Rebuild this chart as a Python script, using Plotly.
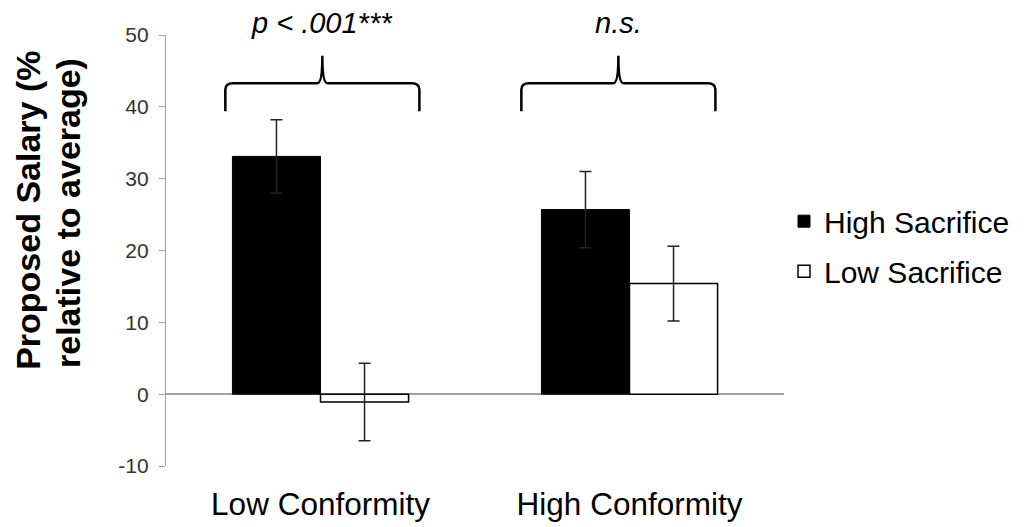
import plotly.graph_objects as go

categories = ["Low Conformity", "High Conformity"]
high_sacrifice = [33.1, 25.7]
high_sacrifice_err = [5.1, 5.3]
low_sacrifice = [-1.1, 15.4]
low_sacrifice_err = [5.4, 5.2]
significance = ["p < .001***", "n.s."]
y_ticks = [-10, 0, 10, 20, 30, 40, 50]

FONT = "Arial, Liberation Sans, sans-serif"
xpos = list(range(len(categories)))

fig = go.Figure()
fig.add_trace(go.Bar(
    x=xpos, y=high_sacrifice, name="High Sacrifice",
    marker=dict(color="black", line=dict(color="black", width=1)),
    error_y=dict(type="data", array=high_sacrifice_err, color="#222222", thickness=1.5, width=6),
    legendgroup="hs",
))
fig.add_trace(go.Bar(
    x=xpos, y=low_sacrifice, name="Low Sacrifice",
    marker=dict(color="white", line=dict(color="black", width=1.5)),
    error_y=dict(type="data", array=low_sacrifice_err, color="#222222", thickness=1.5, width=6),
    legendgroup="ls",
))

# curly braces above each group
brace_shift = [0.006, -0.036]
half_w = 0.314
yb, ym, yt = 39.4, 43.3, 47.1
rx, ry = 0.025, 0.9
shapes = []
annotations = []
for i, txt in enumerate(significance):
    c = xpos[i] + brace_shift[i]
    l, r = c - half_w, c + half_w
    path = (f"M {l},{yb} L {l},{ym-ry} Q {l},{ym} {l+rx},{ym} "
            f"L {c-rx/1.6},{ym} Q {c},{ym} {c},{yt} "
            f"Q {c},{ym} {c+rx/1.6},{ym} L {r-rx},{ym} "
            f"Q {r},{ym} {r},{ym-ry} L {r},{yb}")
    shapes.append(dict(type="path", path=path, xref="x", yref="y",
                       line=dict(color="black", width=2.5)))
    annotations.append(dict(text=f"<i>{txt}</i>", x=c, xref="x", y=1, yref="paper",
                            yanchor="middle", yshift=12, showarrow=False,
                            font=dict(family=FONT, size=29, color="black")))

# y-axis title as two lines
annotations.append(dict(text="<b>Proposed Salary (%</b>", x=0, xref="paper", xshift=-138,
                        y=0.592, yref="paper", textangle=-90, showarrow=False,
                        xanchor="center", yanchor="middle",
                        font=dict(family=FONT, size=34, color="black")))
annotations.append(dict(text="<b>relative to average)</b>", x=0, xref="paper", xshift=-98,
                        y=0.587, yref="paper", textangle=-90, showarrow=False,
                        xanchor="center", yanchor="middle",
                        font=dict(family=FONT, size=34, color="black")))

fig.update_layout(
    width=1022, height=519,
    margin=dict(l=158, r=246, t=27, b=61, autoexpand=False),
    paper_bgcolor="white", plot_bgcolor="white",
    barmode="group", bargap=0.43, bargroupgap=0,
    shapes=shapes, annotations=annotations,
    showlegend=True,
    legend=dict(x=1.0, xanchor="left", y=0.51, yanchor="middle",
                font=dict(family=FONT, size=30, color="black"),
                tracegroupgap=8, bgcolor="rgba(0,0,0,0)"),
    font=dict(family=FONT),
)
fig.update_xaxes(
    range=[-0.5, 1.5], tickvals=xpos, ticktext=categories,
    showline=False, showgrid=False, zeroline=False, ticks="",
    tickfont=dict(family=FONT, size=31.5, color="black"),
    ticklabelstandoff=16, automargin=False,
)
fig.update_yaxes(
    range=[-10, 50], tickvals=y_ticks, ticktext=[str(v) for v in y_ticks],
    showgrid=False, automargin=False,
    showline=True, linecolor="#a0a0a0", linewidth=1.3,
    ticks="outside", ticklen=6, tickcolor="#a0a0a0", tickwidth=1.3,
    zeroline=True, zerolinecolor="#a0a0a0", zerolinewidth=1.5,
    tickfont=dict(family=FONT, size=21, color="#333333"),
    ticklabelstandoff=6,
)

fig.write_html("out.html")
